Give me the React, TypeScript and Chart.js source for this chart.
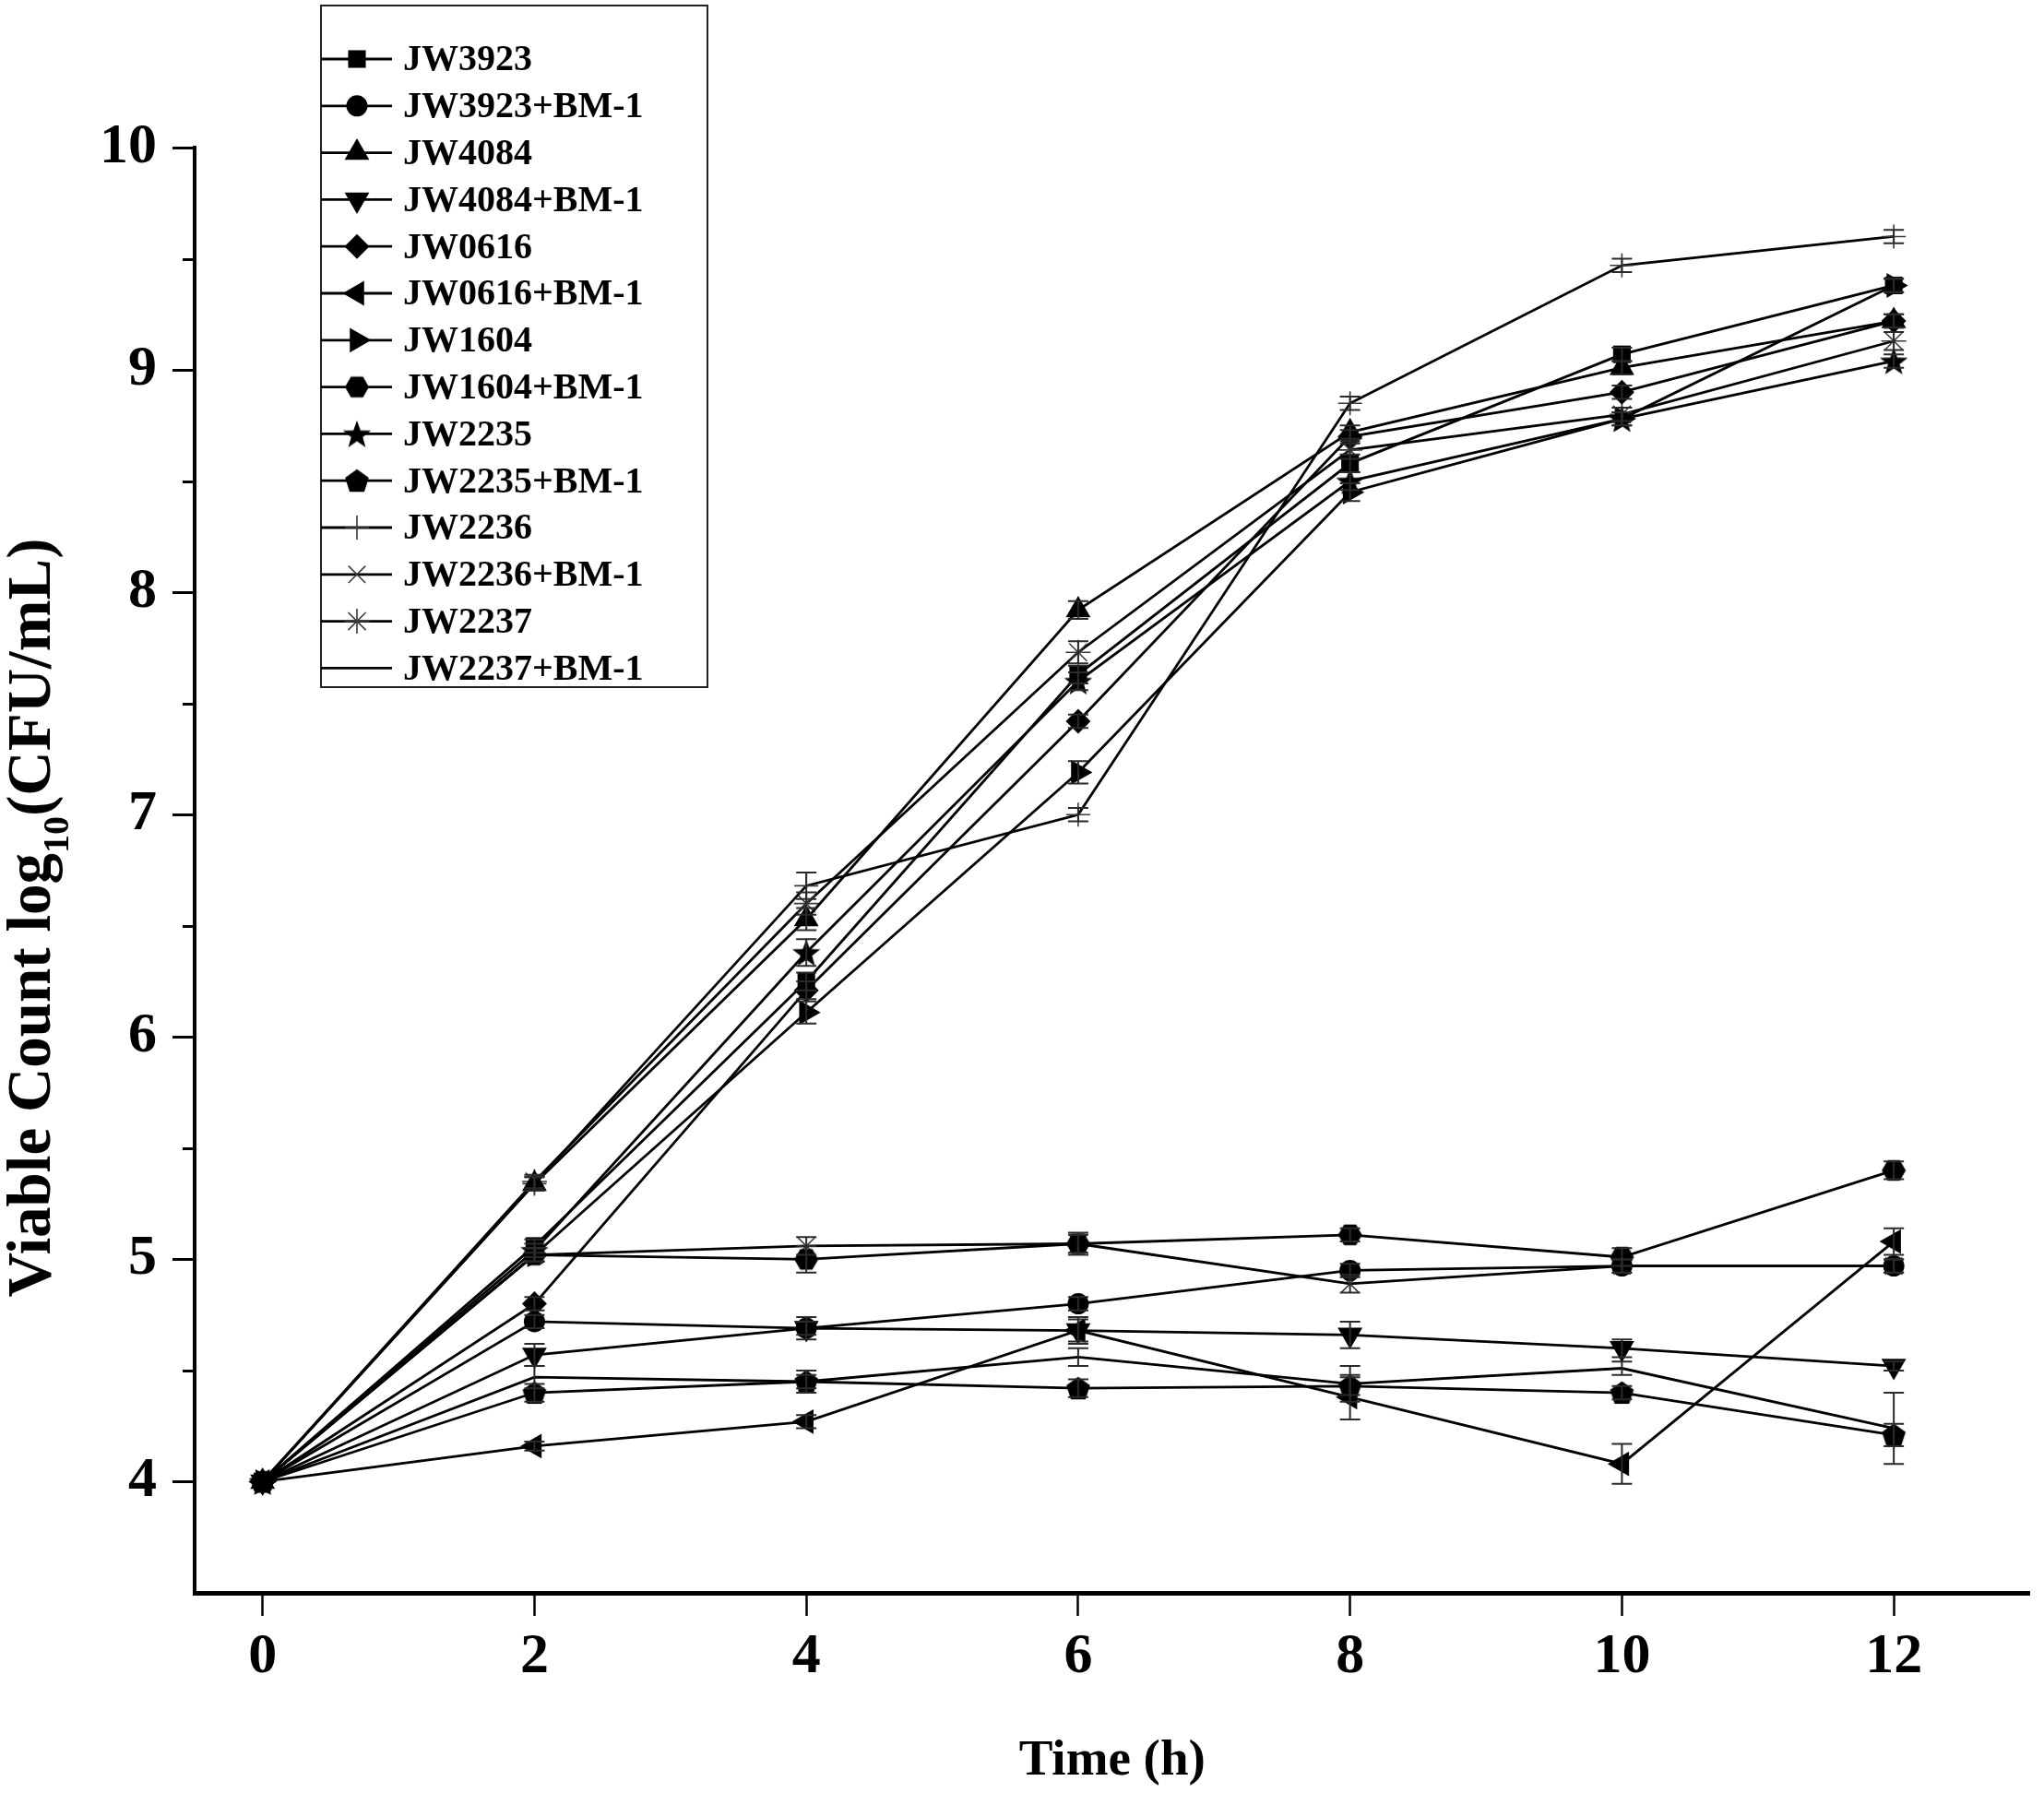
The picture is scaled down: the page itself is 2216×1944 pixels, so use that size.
import React, { useEffect, useRef } from 'react';
import { Chart, registerables } from 'chart.js';
import { drawPoint } from 'chart.js/helpers';

Chart.register(...registerables);

// ---------- data ----------
const hours = [0, 2, 4, 6, 8, 10, 12];
const xTickValues = [0, 2, 4, 6, 8, 10, 12];
const yTickValues = [4, 5, 6, 7, 8, 9, 10];
const yMinorTickValues = [4.5, 5.5, 6.5, 7.5, 8.5, 9.5];

const seriesNames = [
  'JW3923', 'JW3923+BM-1', 'JW4084', 'JW4084+BM-1', 'JW0616', 'JW0616+BM-1',
  'JW1604', 'JW1604+BM-1', 'JW2235', 'JW2235+BM-1', 'JW2236', 'JW2236+BM-1',
  'JW2237', 'JW2237+BM-1',
];

const jw3923 = [4.0, 5.06, 6.25, 7.63, 8.58, 9.07, 9.38];
const jw3923BM = [4.0, 4.72, 4.69, 4.8, 4.95, 4.97, 4.97];
const jw4084 = [4.0, 5.34, 6.53, 7.92, 8.72, 9.01, 9.22];
const jw4084BM = [4.0, 4.57, 4.69, 4.68, 4.66, 4.6, 4.52];
const jw0616 = [4.0, 4.8, 6.21, 7.42, 8.7, 8.9, 9.22];
const jw0616BM = [4.0, 4.16, 4.27, 4.68, 4.38, 4.08, 5.08];
const jw1604 = [4.0, 5.02, 6.11, 7.19, 8.45, 8.78, 9.38];
const jw1604BM = [4.0, 5.02, 5.0, 5.07, 5.11, 5.01, 5.4];
const jw2235 = [4.0, 5.04, 6.38, 7.6, 8.5, 8.78, 9.04];
const jw2235BM = [4.0, 4.4, 4.45, 4.42, 4.43, 4.4, 4.21];
const jw2236 = [4.0, 5.34, 6.68, 7.0, 8.85, 9.47, 9.6];
const jw2236BM = [4.0, 5.02, 5.06, 5.07, 4.89, 4.97, 4.97];
const jw2237 = [4.0, 5.35, 6.6, 7.73, 8.64, 8.8, 9.13];
const jw2237BM = [4.0, 4.47, 4.45, 4.56, 4.44, 4.51, 4.24];

// standard deviations (error bars)
const err3923 = [0, 0.03, 0.04, 0.04, 0.04, 0.03, 0.03];
const err3923BM = [0, 0.03, 0.03, 0.03, 0.03, 0.03, 0.03];
const err4084 = [0, 0.03, 0.05, 0.04, 0.03, 0.03, 0.03];
const err4084BM = [0, 0.05, 0.05, 0.05, 0.06, 0.04, 0.02];
const err0616 = [0, 0.03, 0.04, 0.03, 0.03, 0.03, 0.03];
const err0616BM = [0, 0.02, 0.03, 0.06, 0.1, 0.09, 0.06];
const err1604 = [0, 0.03, 0.05, 0.05, 0.04, 0.03, 0.03];
const err1604BM = [0, 0.03, 0.06, 0.05, 0.03, 0.04, 0.04];
const err2235 = [0, 0.03, 0.06, 0.04, 0.04, 0.03, 0.03];
const err2235BM = [0, 0.04, 0.03, 0.04, 0.04, 0.03, 0.05];
const err2236 = [0, 0.03, 0.06, 0.03, 0.03, 0.03, 0.03];
const err2236BM = [0, 0.03, 0.04, 0.04, 0.04, 0.03, 0.03];
const err2237 = [0, 0.03, 0.05, 0.05, 0.04, 0.03, 0.04];
const err2237BM = [0, 0.05, 0.05, 0.04, 0.08, 0.03, 0.16];

const seriesValues = [
  jw3923, jw3923BM, jw4084, jw4084BM, jw0616, jw0616BM, jw1604,
  jw1604BM, jw2235, jw2235BM, jw2236, jw2236BM, jw2237, jw2237BM,
];
const seriesErrors = [
  err3923, err3923BM, err4084, err4084BM, err0616, err0616BM, err1604,
  err1604BM, err2235, err2235BM, err2236, err2236BM, err2237, err2237BM,
];

const xTitle = 'Time (h)';
const yTitleParts = ['Viable Count log', '10', '(CFU/mL)'];

// ---------- styling ----------
const SERIF = '"Liberation Serif", "Times New Roman", Times, serif';

function makeShape(kind: string): HTMLCanvasElement {
  const size = kind === 'star' ? 34 : 28;
  const c = document.createElement('canvas');
  c.width = size;
  c.height = size;
  const g = c.getContext('2d')!;
  const cx = size / 2;
  const cy = size / 2;
  g.fillStyle = '#000';
  g.beginPath();
  if (kind === 'hex') {
    const r = 13;
    for (let k = 0; k < 6; k++) {
      const a = (Math.PI / 3) * k;
      const px = cx + r * Math.cos(a);
      const py = cy + r * Math.sin(a);
      if (k === 0) g.moveTo(px, py);
      else g.lineTo(px, py);
    }
  } else if (kind === 'pent') {
    const r = 13.5;
    for (let k = 0; k < 5; k++) {
      const a = -Math.PI / 2 + ((2 * Math.PI) / 5) * k;
      const px = cx + r * Math.cos(a);
      const py = cy + 1 + r * Math.sin(a);
      if (k === 0) g.moveTo(px, py);
      else g.lineTo(px, py);
    }
  } else {
    const ro = 16;
    const ri = 6.6;
    for (let k = 0; k < 10; k++) {
      const a = -Math.PI / 2 + (Math.PI / 5) * k;
      const r = k % 2 === 0 ? ro : ri;
      const px = cx + r * Math.cos(a);
      const py = cy + 1.5 + r * Math.sin(a);
      if (k === 0) g.moveTo(px, py);
      else g.lineTo(px, py);
    }
  }
  g.closePath();
  g.fill();
  return c;
}

export default function App() {
  const ref = useRef<HTMLCanvasElement | null>(null);

  useEffect(() => {
    if (!ref.current) return;
    const hex = makeShape('hex');
    const pent = makeShape('pent');
    const star = makeShape('star');

    const markerStyles: any[] = [
      { pointStyle: 'rect', rotation: 0, radius: 13.5, border: 0 },
      { pointStyle: 'circle', rotation: 0, radius: 11.5, border: 0 },
      { pointStyle: 'triangle', rotation: 0, radius: 15.5, border: 0 },
      { pointStyle: 'triangle', rotation: 180, radius: 15.5, border: 0 },
      { pointStyle: 'rectRot', rotation: 0, radius: 13.5, border: 0 },
      { pointStyle: 'triangle', rotation: 270, radius: 15.5, border: 0 },
      { pointStyle: 'triangle', rotation: 90, radius: 15.5, border: 0 },
      { pointStyle: hex, rotation: 0, radius: 12, border: 0 },
      { pointStyle: star, rotation: 0, radius: 12, border: 0 },
      { pointStyle: pent, rotation: 0, radius: 12, border: 0 },
      { pointStyle: 'cross', rotation: 0, radius: 13, border: 1.6 },
      { pointStyle: 'crossRot', rotation: 0, radius: 13, border: 1.6 },
      { pointStyle: 'star', rotation: 0, radius: 13.5, border: 1.6 },
      { pointStyle: 'circle', rotation: 0, radius: 0, border: 0 },
    ];

    const datasets = seriesNames.map((name, i) => ({
      label: name,
      data: hours.map((h, j) => ({ x: h, y: seriesValues[i][j] })),
      borderColor: '#000',
      backgroundColor: '#000',
      borderWidth: 2.8,
      tension: 0,
      fill: false,
      pointStyle: markerStyles[i].pointStyle,
      pointRotation: markerStyles[i].rotation,
      pointRadius: markerStyles[i].radius,
      pointBackgroundColor: '#000',
      pointBorderColor: markerStyles[i].border > 0 ? '#3a3a3a' : '#000',
      pointBorderWidth: markerStyles[i].border,
      clip: false as any,
    }));

    const decorations = {
      id: 'decorations',
      afterDatasetsDraw(chart: any) {
        const ctx = chart.ctx;
        const xs = chart.scales.x;
        const ys = chart.scales.y;
        ctx.save();
        ctx.strokeStyle = '#2a2a2a';
        ctx.lineWidth = 2;
        seriesErrors.forEach((errs, i) => {
          errs.forEach((e, j) => {
            if (!e) return;
            const v = seriesValues[i][j];
            const px = xs.getPixelForValue(hours[j]);
            const top = ys.getPixelForValue(v + e);
            const bot = ys.getPixelForValue(v - e);
            ctx.beginPath();
            ctx.moveTo(px, top);
            ctx.lineTo(px, bot);
            ctx.moveTo(px - 11, top);
            ctx.lineTo(px + 11, top);
            ctx.moveTo(px - 11, bot);
            ctx.lineTo(px + 11, bot);
            ctx.stroke();
          });
        });
        ctx.restore();
      },
      afterDraw(chart: any) {
        const ctx = chart.ctx;
        const ys = chart.scales.y;
        const area = chart.chartArea;
        ctx.save();
        // minor y ticks
        ctx.strokeStyle = '#000';
        ctx.lineWidth = 3;
        yMinorTickValues.forEach((v) => {
          const py = Math.round(ys.getPixelForValue(v)) + 0.5;
          ctx.beginPath();
          ctx.moveTo(area.left - 13, py);
          ctx.lineTo(area.left, py);
          ctx.stroke();
        });

        // x title
        ctx.fillStyle = '#000';
        ctx.font = `bold 55px ${SERIF}`;
        ctx.textAlign = 'center';
        ctx.textBaseline = 'middle';
        ctx.fillText(xTitle, (area.left + area.right) / 2, 1910);

        // y title with subscript
        const mainFont = `bold 67px ${SERIF}`;
        const subFont = `bold 40px ${SERIF}`;
        ctx.font = mainFont;
        const w0 = ctx.measureText(yTitleParts[0]).width;
        const w2 = ctx.measureText(yTitleParts[2]).width;
        ctx.font = subFont;
        const w1 = ctx.measureText(yTitleParts[1]).width;
        const total = w0 + w1 + w2;
        ctx.translate(36, 995);
        ctx.rotate(-Math.PI / 2);
        ctx.textAlign = 'left';
        ctx.textBaseline = 'alphabetic';
        let u = -total / 2;
        ctx.font = mainFont;
        ctx.fillText(yTitleParts[0], u, 18);
        u += w0;
        ctx.font = subFont;
        ctx.fillText(yTitleParts[1], u, 38);
        u += w1;
        ctx.font = mainFont;
        ctx.fillText(yTitleParts[2], u, 18);
        ctx.restore();

        // legend
        ctx.save();
        const bx = 348, by = 6, bw = 419, bh = 739;
        ctx.fillStyle = '#fff';
        ctx.fillRect(bx, by, bw, bh);
        ctx.strokeStyle = '#222';
        ctx.lineWidth = 2;
        ctx.strokeRect(bx, by, bw, bh);
        chart.data.datasets.forEach((ds: any, i: number) => {
          const ly = 64 + i * 50.8;
          ctx.strokeStyle = '#000';
          ctx.lineWidth = 2.8;
          ctx.beginPath();
          ctx.moveTo(bx, ly);
          ctx.lineTo(425, ly);
          ctx.stroke();
          if (ds.pointRadius > 0) {
            ctx.fillStyle = '#000';
            ctx.strokeStyle = ds.pointBorderColor;
            ctx.lineWidth = ds.pointBorderWidth || 0;
            ctx.beginPath();
            drawPoint(
              ctx,
              {
                pointStyle: ds.pointStyle,
                rotation: ds.pointRotation,
                radius: ds.pointRadius,
                borderWidth: ds.pointBorderWidth,
              } as any,
              387,
              ly
            );
          }
          ctx.fillStyle = '#000';
          ctx.font = `bold 40px ${SERIF}`;
          ctx.textAlign = 'left';
          ctx.textBaseline = 'middle';
          ctx.fillText(ds.label, 437, ly + 2);
        });
        ctx.restore();
      },
    };

    const tickFont = { family: SERIF, size: 62, weight: 'bold' as const };

    const chart = new Chart(ref.current, {
      type: 'line',
      data: { datasets: datasets as any },
      options: {
        animation: false,
        responsive: true,
        maintainAspectRatio: false,
        devicePixelRatio: 1,
        layout: { padding: { left: 0, right: 11, top: 160, bottom: 0 } },
        plugins: {
          legend: { display: false },
          tooltip: { enabled: false },
        },
        scales: {
          x: {
            type: 'linear',
            min: -0.5,
            max: 13,
            afterBuildTicks: (s: any) => {
              s.ticks = xTickValues.map((v) => ({ value: v }));
            },
            afterFit: (s: any) => {
              s.height = 217;
            },
            ticks: {
              font: tickFont,
              color: '#000',
              padding: 8,
              maxRotation: 0,
              autoSkip: false,
              callback: (v: any) => String(v),
            },
            grid: {
              drawOnChartArea: false,
              drawTicks: true,
              tickLength: 25,
              tickWidth: 2.5,
              tickColor: '#000',
            },
            border: { display: true, width: 5, color: '#000' },
          },
          y: {
            type: 'linear',
            min: 3.5,
            max: 10,
            afterBuildTicks: (s: any) => {
              s.ticks = yTickValues.map((v) => ({ value: v }));
            },
            afterFit: (s: any) => {
              s.width = 211;
            },
            ticks: {
              font: tickFont,
              color: '#000',
              padding: 17,
              autoSkip: false,
              callback: (v: any) => String(v),
            },
            grid: {
              drawOnChartArea: false,
              drawTicks: true,
              tickLength: 24,
              tickWidth: 3,
              tickColor: '#000',
            },
            border: { display: true, width: 4, color: '#000' },
          },
        },
      },
      plugins: [decorations],
    });

    return () => chart.destroy();
  }, []);

  return (
    <div
      style={{
        position: 'fixed',
        left: 0,
        top: 0,
        width: 2216,
        height: 1944,
        background: '#fff',
      }}
    >
      <canvas ref={ref} />
    </div>
  );
}
